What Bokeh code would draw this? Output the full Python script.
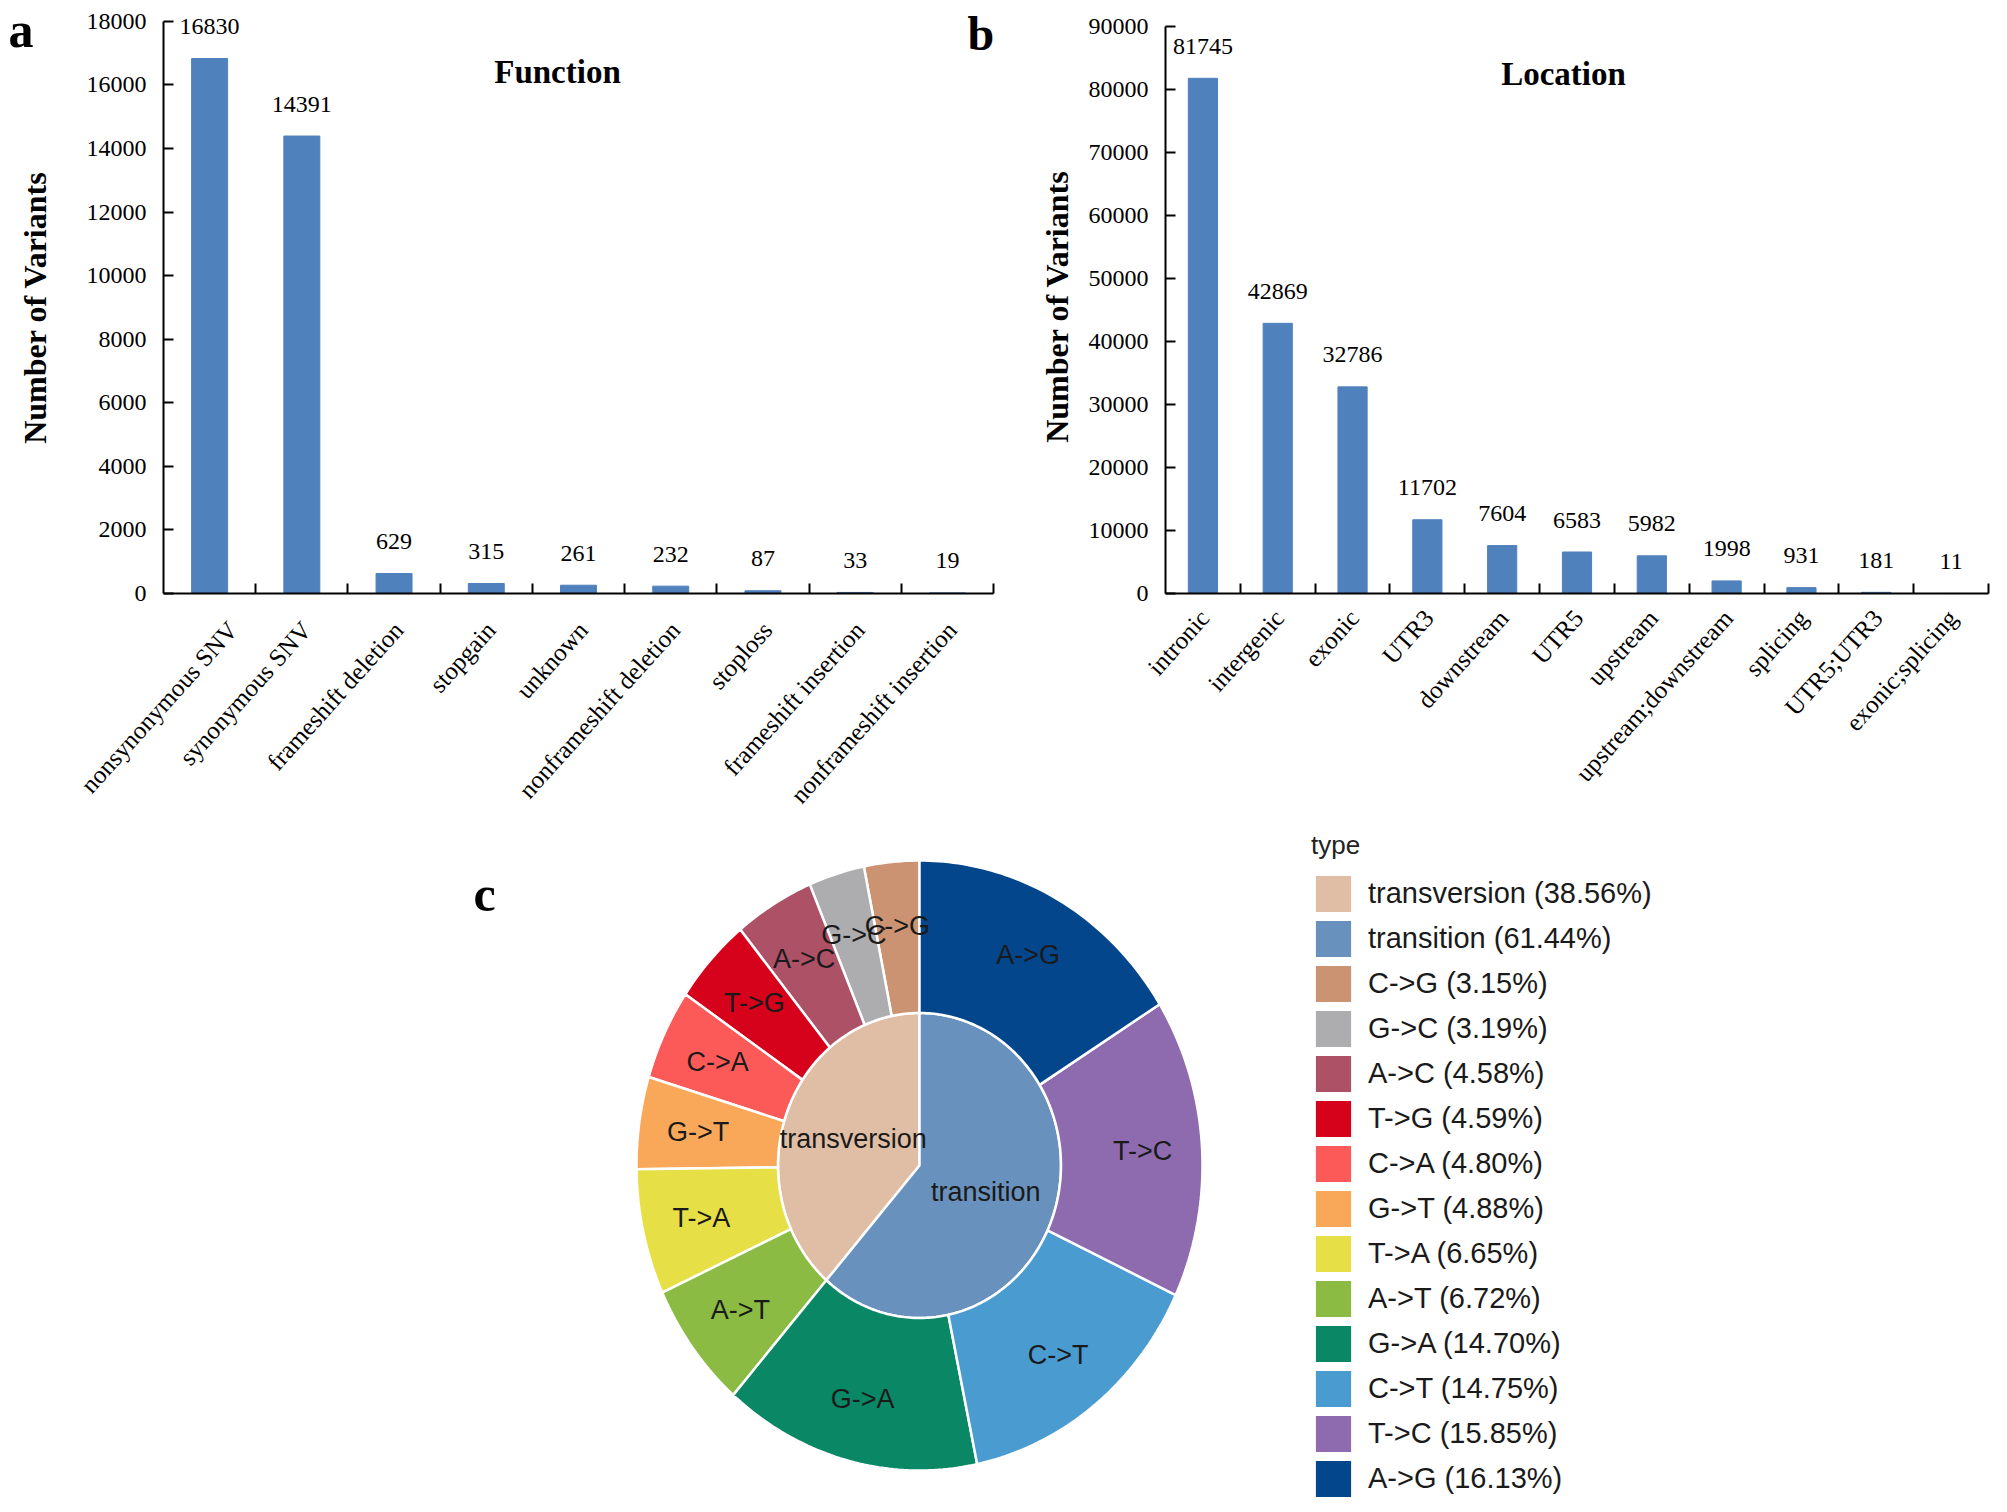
import math
import numpy as np
from bokeh.plotting import figure
from bokeh.models import (ColumnDataSource, Range1d, LinearAxis, FixedTicker,
                          CustomJSTickFormatter, LabelSet, Label, Legend, LegendItem)
from bokeh.layouts import column, row
from bokeh.embed import file_html
from bokeh.resources import INLINE
from bokeh.core.properties import value

# ---------------- data ----------------
func_cats = ["nonsynonymous SNV", "synonymous SNV", "frameshift deletion", "stopgain",
             "unknown", "nonframeshift deletion", "stoploss", "frameshift insertion",
             "nonframeshift insertion"]
func_vals = [16830, 14391, 629, 315, 261, 232, 87, 33, 19]
func_yticks = [0, 2000, 4000, 6000, 8000, 10000, 12000, 14000, 16000, 18000]

loc_cats = ["intronic", "intergenic", "exonic", "UTR3", "downstream", "UTR5", "upstream",
            "upstream;downstream", "splicing", "UTR5;UTR3", "exonic;splicing"]
loc_vals = [81745, 42869, 32786, 11702, 7604, 6583, 5982, 1998, 931, 181, 11]
loc_yticks = [0, 10000, 20000, 30000, 40000, 50000, 60000, 70000, 80000, 90000]

type_names = ["transversion", "transition"]
type_pct = [38.56, 61.44]
type_colors = ["#E0BEA6", "#6891BD"]

sub_names = ["C->G", "G->C", "A->C", "T->G", "C->A", "G->T", "T->A", "A->T",
             "G->A", "C->T", "T->C", "A->G"]
sub_pct = [3.15, 3.19, 4.58, 4.59, 4.80, 4.88, 6.65, 6.72, 14.70, 14.75, 15.85, 16.13]
sub_colors = ["#CB9371", "#ADADB0", "#AC5166", "#D6011B", "#FC5A59", "#F9A85A",
              "#E6DF45", "#8BBB43", "#0A8765", "#4A9BD0", "#8E6BAF", "#03468C"]

BLUE = "#4F81BD"
SERIF = "Liberation Serif"
SANS = "Liberation Sans"
TOP_H = 820
Y0 = 598          # page y of the zero line of both bar panels
ANGLE = math.radians(48)
BASE_FIX = 13     # alphabetic-baseline correction for the 50px panel letters


def bar_panel(cats, vals, yticks, ymax, width, frame_left, frame_right, y_top_px,
              title, title_xy, label_shift, label_standoff):
    n = len(cats)
    y_end = ymax * Y0 / (Y0 - y_top_px)
    p = figure(x_range=Range1d(0, n), y_range=Range1d(0, y_end), width=width, height=TOP_H,
               output_backend="svg", toolbar_location=None, title=None,
               x_axis_location=None, y_axis_location="left",
               min_border_left=frame_left, min_border_right=frame_right, min_border_top=0,
               min_border_bottom=TOP_H - Y0)
    p.outline_line_color = None
    p.grid.grid_line_color = None

    # each category sits in the middle of its unit slot on the linear scale
    pos = [i + 0.5 for i in range(n)]
    src = ColumnDataSource(dict(pos=pos, cat=cats, val=vals, txt=[str(v) for v in vals]))
    p.vbar(x="pos", top="val", width=0.39, source=src, fill_color=BLUE, line_color=BLUE)

    ya = p.yaxis[0]
    ya.ticker = FixedTicker(ticks=yticks)
    ya.bounds = (0, ymax)
    ya.major_tick_in = 10
    ya.major_tick_out = 0
    ya.minor_tick_line_color = None
    ya.axis_line_width = 2
    ya.major_tick_line_width = 2
    ya.major_label_text_font = SERIF
    ya.major_label_text_font_size = "24px"
    ya.major_label_text_color = "black"
    ya.major_label_standoff = 17

    ax1 = LinearAxis(ticker=FixedTicker(ticks=list(range(1, n + 1))),
                     formatter=CustomJSTickFormatter(code="return '';"),
                     major_tick_in=10, major_tick_out=0, minor_tick_line_color=None,
                     axis_line_width=2, major_tick_line_width=2,
                     major_label_standoff=0, major_label_text_font_size="1px")
    p.add_layout(ax1, "below")
    ax2 = LinearAxis(ticker=FixedTicker(ticks=[x + label_shift for x in pos]),
                     formatter=CustomJSTickFormatter(args=dict(labels=cats),
                                                     code="return labels[Math.floor(tick)];"),
                     axis_line_color=None, major_tick_line_color=None,
                     minor_tick_line_color=None,
                     major_label_orientation=ANGLE, major_label_standoff=label_standoff,
                     major_label_text_font=SERIF, major_label_text_font_size="25px",
                     major_label_text_color="black")
    p.add_layout(ax2, "below")

    p.add_layout(LabelSet(x="pos", y="val", text="txt", source=src, y_offset=32,
                          text_align="center", text_baseline="middle",
                          text_font=value(SERIF), text_font_size=value("24px"),
                          text_color="black"))
    p.add_layout(Label(x=title_xy[0], y=title_xy[1], x_units="screen", y_units="screen",
                       text=title, text_font=SERIF, text_font_style="bold",
                       text_font_size="33px", text_align="center", text_baseline="middle",
                       text_color="black"))
    return p


def strip_fig(width, letter=None, letter_xy=None, ylab_x=None, ylab_y=None):
    s = figure(width=width, height=TOP_H, x_range=Range1d(0, width), y_range=Range1d(0, TOP_H),
               output_backend="svg", toolbar_location=None, title=None,
               x_axis_location=None, y_axis_location=None, min_border=0,
               min_border_bottom=TOP_H - Y0)
    s.outline_line_color = None
    s.grid.grid_line_color = None
    if letter:
        s.add_layout(Label(x=letter_xy[0], y=letter_xy[1], x_units="screen", y_units="screen",
                           text=letter, text_font=SERIF, text_font_style="bold",
                           text_font_size="50px", text_align="left",
                           text_baseline="alphabetic", text_color="black"))
    s.add_layout(Label(x=ylab_x, y=ylab_y, x_units="screen", y_units="screen",
                       text="Number of Variants", angle=math.pi / 2,
                       text_font=SERIF, text_font_style="bold", text_font_size="32px",
                       text_align="center", text_baseline="middle", text_color="black"))
    return s


# strip A: page x 0..75  (letter a, y title of panel a)
stripA = strip_fig(75, "a", (8, Y0 - 47 + BASE_FIX), 34, Y0 - 312)

# panel a: page x 75..998, frame 163..993; 18000 at y 21
pa = bar_panel(func_cats, func_vals, func_yticks, 18000, 923, 88, 5, 21,
               "Function", (557 - 163, Y0 - 76), 0.05, 26)
pa.add_layout(Label(x=967 - 163, y=Y0 - 51 + BASE_FIX, x_units="screen", y_units="screen",
                    text="b", text_font=SERIF, text_font_style="bold", text_font_size="48px",
                    text_align="left", text_baseline="alphabetic", text_color="black"))

# strip B: page x 998..1080 (y title of panel b)
stripB = strip_fig(82, None, None, 1056 - 998, Y0 - 311)

# panel b: page x 1080..2003, frame 1165..1988; 90000 at y 26
pb = bar_panel(loc_cats, loc_vals, loc_yticks, 90000, 923, 85, 15, 26,
               "Location", (1563 - 1165, Y0 - 78), 0.02, 14)

# ---------------- panel c: donut ----------------
CX, CY, RX, RY = 919.0, 1165.0, 283.0, 305.0
LEFT, TOP, W, H = 0.0, float(TOP_H), 2000, 690
R_IN = 0.5

pc = figure(width=W, height=H,
            x_range=Range1d((LEFT - CX) / RX, (LEFT + W - CX) / RX),
            y_range=Range1d((CY - TOP - H) / RY, (CY - TOP) / RY),
            output_backend="svg", toolbar_location=None, title=None,
            x_axis_location=None, y_axis_location=None, min_border=0)
pc.outline_line_color = None
pc.grid.grid_line_color = None


def arc(a0, a1, r):
    k = max(3, int(abs(a1 - a0)) + 2)
    t = np.radians(np.linspace(a0, a1, k))
    return list(r * np.cos(t)), list(r * np.sin(t))


xs, ys, cols, labs = [], [], [], []
tx, ty, tt = [], [], []

tot = sum(type_pct)
cum = 0.0
for name, pct, col in zip(type_names, type_pct, type_colors):
    a0 = 90 + cum / tot * 360
    cum += pct
    a1 = 90 + cum / tot * 360
    ax_, ay_ = arc(a0, a1, R_IN)
    xs.append([0.0] + ax_)
    ys.append([0.0] + ay_)
    cols.append(col)
    labs.append(f"{name} ({pct:.2f}%)")
    m = math.radians((a0 + a1) / 2)
    tx.append(0.25 * math.cos(m)); ty.append(0.25 * math.sin(m)); tt.append(name)

tot = sum(sub_pct)
cum = 0.0
for name, pct, col in zip(sub_names, sub_pct, sub_colors):
    a0 = 90 + cum / tot * 360
    cum += pct
    a1 = 90 + cum / tot * 360
    ox, oy = arc(a0, a1, 1.0)
    ix, iy = arc(a1, a0, R_IN)
    xs.append(ox + ix)
    ys.append(oy + iy)
    cols.append(col)
    labs.append(f"{name} ({pct:.2f}%)")
    m = math.radians((a0 + a1) / 2)
    tx.append(0.79 * math.cos(m)); ty.append(0.79 * math.sin(m)); tt.append(name)

srcc = ColumnDataSource(dict(xs=xs, ys=ys, color=cols, label=labs))
r_leg = pc.patches("xs", "ys", fill_color="color", line_color=None, source=srcc)
pc.patches("xs", "ys", fill_color="color", line_color="white", line_width=2.5, source=srcc)
pc.text(x=tx, y=ty, text=tt, text_align="center", text_baseline="middle",
        text_font=value(SANS), text_font_size="27px", text_color="#1a1a1a")

lg = Legend(items=[LegendItem(label=lab, renderers=[r_leg], index=i)
                   for i, lab in enumerate(labs)])
lg.location = (1311, 9)
lg.title = "type"
lg.title_text_font = SANS
lg.title_text_font_size = "26px"
lg.title_text_font_style = "normal"
lg.title_text_color = "#222222"
lg.title_standoff = 10
lg.label_text_font = SANS
lg.label_text_font_size = "29px"
lg.label_text_color = "#1a1a1a"
lg.glyph_width = 44
lg.glyph_height = 45
lg.label_height = 45
lg.spacing = 0
lg.label_standoff = 13
lg.padding = 0
lg.margin = 0
lg.border_line_color = None
lg.background_fill_alpha = 0
pc.add_layout(lg)

pc.add_layout(Label(x=473, y=TOP + H - 912 + BASE_FIX + 6, x_units="screen", y_units="screen",
                    text="c", text_font=SERIF, text_font_style="bold", text_font_size="50px",
                    text_align="left", text_baseline="alphabetic", text_color="black"))

layout = column(row(stripA, pa, stripB, pb), pc)
open("out.html", "w").write(file_html(layout, INLINE))
